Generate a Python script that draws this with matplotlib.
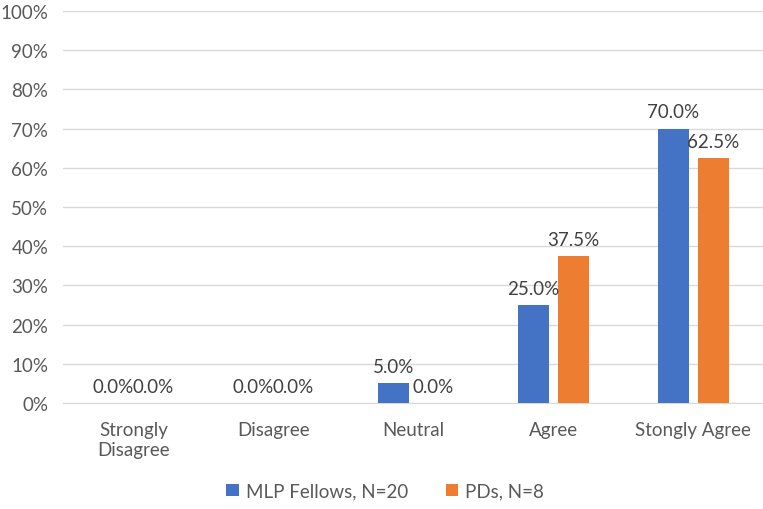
import numpy as np
import matplotlib.pyplot as plt

plt.rcParams['font.family'] = ['Lato', 'DejaVu Sans']

categories = ['Strongly\nDisagree', 'Disagree', 'Neutral', 'Agree', 'Stongly Agree']
mlp_fellows = [0.0, 0.0, 5.0, 25.0, 70.0]
pds = [0.0, 0.0, 0.0, 37.5, 62.5]
series_names = ['MLP Fellows, N=20', 'PDs, N=8']
colors = ['#4472C4', '#ED7D31']

fig = plt.figure(figsize=(7.63, 5.10), dpi=100)
ax = fig.add_axes([0.0832, 0.2078, 0.917, 0.7686])

x = np.arange(len(categories))
w = 0.22
off = 0.143

b1 = ax.bar(x - off, mlp_fellows, w, color=colors[0], label=series_names[0], zorder=3)
b2 = ax.bar(x + off, pds, w, color=colors[1], label=series_names[1], zorder=3)

for bars, vals in [(b1, mlp_fellows), (b2, pds)]:
    for rect, v in zip(bars, vals):
        ax.annotate(f'{v:.1f}%', (rect.get_x() + rect.get_width() / 2, v),
                    xytext=(0, 6), textcoords='offset points',
                    ha='center', va='bottom', fontsize=13.5, color='#404040')

ax.set_xlim(-0.5, len(categories) - 0.5)
ax.set_ylim(0, 100)
ax.set_yticks(np.arange(0, 101, 10))
ax.set_yticklabels([f'{t}%' for t in range(0, 101, 10)])
ax.set_xticks(x)
ax.set_xticklabels(categories)
ax.tick_params(axis='both', length=0, labelsize=13.5, labelcolor='#595959')
ax.tick_params(axis='y', pad=11)
ax.tick_params(axis='x', pad=13)
ax.grid(axis='y', color='#D9D9D9', linewidth=1, zorder=0)
for s in ['top', 'right', 'left']:
    ax.spines[s].set_visible(False)
ax.spines['bottom'].set_color('#D9D9D9')

leg = fig.legend(loc='center', bbox_to_anchor=(0.505, 0.035), ncol=2, frameon=False,
                 fontsize=13.5, handlelength=0.65, handleheight=0.65,
                 handletextpad=0.4, columnspacing=2.0)
for t in leg.get_texts():
    t.set_color('#595959')

fig.savefig('out.png', dpi=100)
